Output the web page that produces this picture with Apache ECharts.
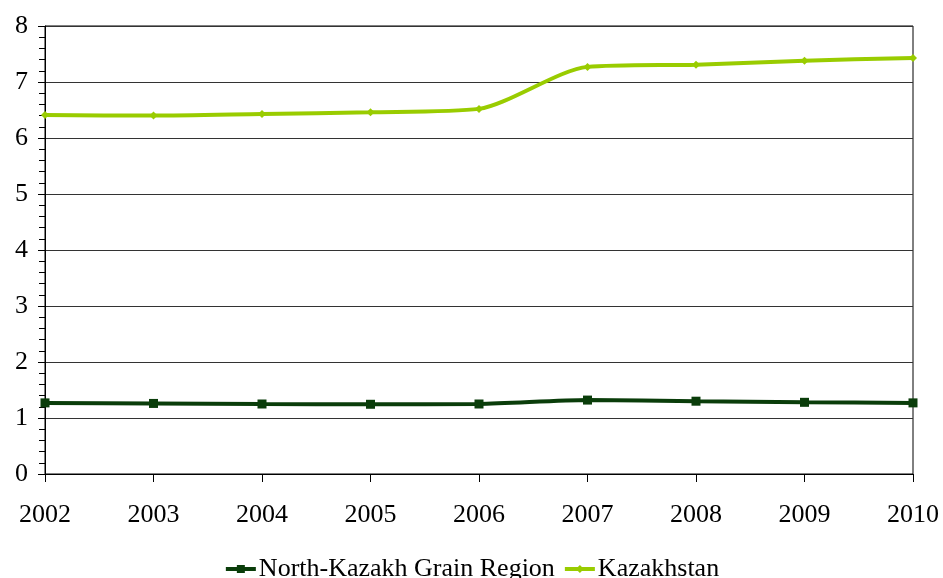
<!DOCTYPE html>
<html><head><meta charset="utf-8">
<script src="https://cdn.jsdelivr.net/npm/echarts@6/dist/echarts.min.js"></script>
<style>html,body{margin:0;padding:0;background:#fff}#c{width:943px;height:578px}</style>
</head><body><div id="c"></div>
<script>
const years = ['2002','2003','2004','2005','2006','2007','2008','2009','2010'];
const northKazakh = [1.27, 1.26, 1.25, 1.245, 1.25, 1.32, 1.30, 1.28, 1.27];
const kazakhstan = [6.41, 6.40, 6.43, 6.46, 6.52, 7.27, 7.31, 7.38, 7.43];
const seriesNames = ['North-Kazakh Grain Region', 'Kazakhstan'];
const font = 'Liberation Serif';
const chart = echarts.init(document.getElementById('c'));
chart.setOption({
  animation: false,
  grid: {left: 45, right: 30, top: 26, bottom: 104, show: true, borderColor: '#000', borderWidth: 1},
  xAxis: {
    type: 'category', data: years, boundaryGap: false,
    axisLine: {lineStyle: {color: '#000', width: 1}},
    axisTick: {show: true, length: 8, inside: false, lineStyle: {color: '#000'}},
    axisLabel: {color: '#000', fontFamily: font, fontSize: 26, margin: 28},
    splitLine: {show: false}
  },
  yAxis: {
    type: 'value', min: 0, max: 8, interval: 1,
    axisLine: {show: true, lineStyle: {color: '#000', width: 1}},
    axisTick: {show: true, length: 7, lineStyle: {color: '#000'}},
    minorTick: {show: true, splitNumber: 5, length: 6, lineStyle: {color: '#000'}},
    axisLabel: {color: '#000', fontFamily: font, fontSize: 26, margin: 17},
    splitLine: {show: true, lineStyle: {color: '#333', width: 1}}
  },
  legend: {
    top: 551, left: 'center', itemWidth: 30, itemHeight: 10, itemGap: 8,
    textStyle: {color: '#000', fontFamily: font, fontSize: 26, padding: [0,0,0,-2]},
    lineStyle: {width: 4},
    data: seriesNames
  },
  series: [
    {name: seriesNames[0], type: 'line', data: northKazakh, smooth: 0.25,
     symbol: 'rect', symbolSize: 9, color: '#0a3d0a',
     lineStyle: {width: 4, color: '#0a3d0a'}, itemStyle: {color: '#0a3d0a'}},
    {name: seriesNames[1], type: 'line', data: kazakhstan, smooth: 0.25,
     symbol: 'diamond', symbolSize: 8, color: '#99cc00',
     lineStyle: {width: 4, color: '#99cc00'}, itemStyle: {color: '#99cc00'}}
  ]
});
</script></body></html>
